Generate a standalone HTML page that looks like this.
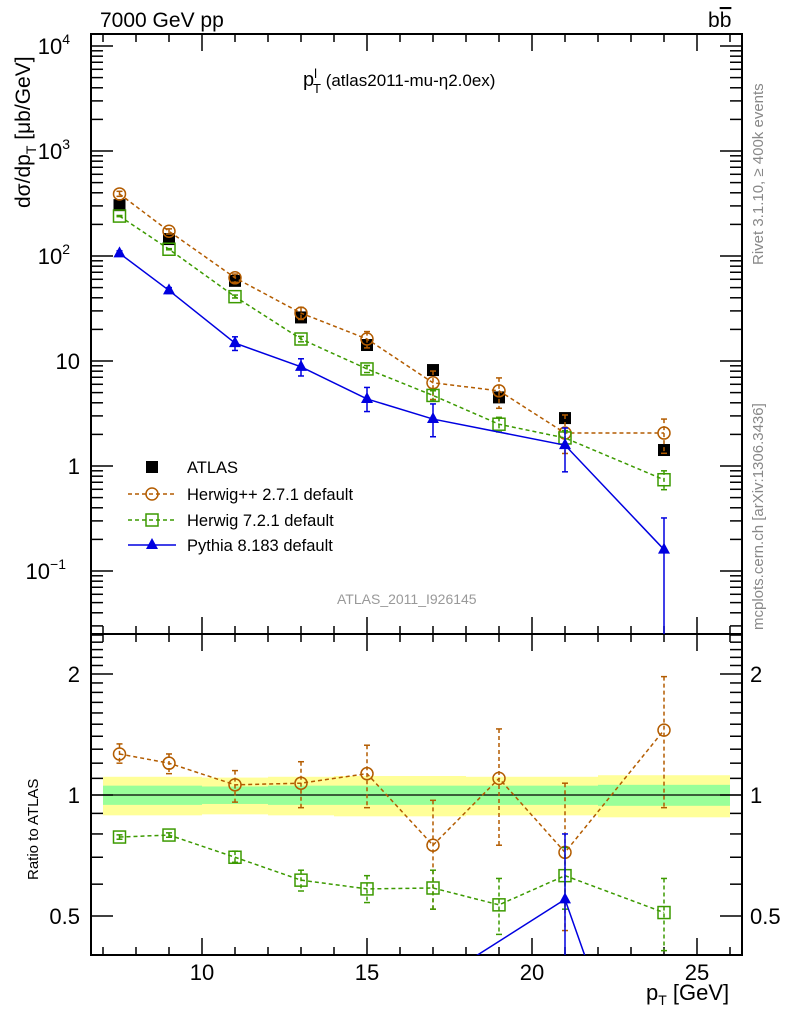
<!DOCTYPE html>
<html><head><meta charset="utf-8"><style>
html,body{margin:0;padding:0;background:#fff;overflow:hidden;}
svg{display:block;font-family:"Liberation Sans",sans-serif;}
</style></head><body>
<svg id="chart" width="786" height="1024" viewBox="0 0 786 1024" xmlns="http://www.w3.org/2000/svg">
<g id="bands"></g>
<g id="axes"></g>
<g id="series"></g>
<text x="100" y="27" font-size="21">7000 GeV pp</text>
<text x="708" y="27" font-size="21">b<tspan text-decoration="overline">b</tspan></text>
<text x="303" y="86" font-size="20">p<tspan font-size="13" dy="-8">l</tspan><tspan font-size="13" dx="-4" dy="15">T</tspan><tspan dy="-7" font-size="17"> (atlas2011-mu-η2.0ex)</tspan></text>
<text transform="translate(30,208) rotate(-90)" font-size="21">dσ/dp<tspan font-size="14" dy="6">T</tspan><tspan dy="-6"> [μb/GeV]</tspan></text>
<text transform="translate(38,880) rotate(-90)" font-size="15">Ratio to ATLAS</text>
<text x="646" y="1000" font-size="22">p<tspan font-size="14" dy="5">T</tspan><tspan dy="-5"> [GeV]</tspan></text>
<text transform="translate(763,265) rotate(-90)" font-size="15" fill="#888">Rivet 3.1.10, ≥ 400k events</text>
<text transform="translate(763,630) rotate(-90)" font-size="15" fill="#888">mcplots.cern.ch [arXiv:1306.3436]</text>
<text x="337" y="604" font-size="14" fill="#999">ATLAS_2011_I926145</text>
<g id="legend">
 <rect x="146" y="461" width="12" height="12" fill="#000"/>
 <text x="187" y="473" font-size="16.5">ATLAS</text>
 <line x1="128" y1="494" x2="176" y2="494" stroke="#b35c00" stroke-width="1.5" stroke-dasharray="4,3"/>
 <circle cx="152" cy="494" r="6" fill="none" stroke="#b35c00" stroke-width="1.5"/>
 <text x="187" y="500" font-size="16.5">Herwig++ 2.7.1 default</text>
 <line x1="128" y1="520" x2="176" y2="520" stroke="#3c9a00" stroke-width="1.5" stroke-dasharray="4,3"/>
 <rect x="146" y="514" width="12" height="12" fill="none" stroke="#3c9a00" stroke-width="1.5"/>
 <text x="187" y="526" font-size="16.5">Herwig 7.2.1 default</text>
 <line x1="128" y1="545" x2="176" y2="545" stroke="#0000e0" stroke-width="1.5"/>
 <path d="M152,538 L158,549 L146,549 Z" fill="#0000e0"/>
 <text x="187" y="551" font-size="16.5">Pythia 8.183 default</text>
</g>
</svg>
<script>
const xVals=[7.5,9,11,13,15,17,19,21,24];
const atlas=[305,145,58,26,14.2,8.2,4.5,2.86,1.42];
const herwigpp=[390,172,62,28.6,16.2,6.2,5.2,2.06,2.06];
const herwig7=[240,116,41,16.2,8.4,4.7,2.5,1.85,0.74];
const pythia=[106,47,14.8,8.8,4.35,2.8,null,1.58,0.16];
const pythiaLo=[100,44,12.6,7.2,3.3,1.9,null,0.88,0.001];
const pythiaHi=[112,50,17,10.5,5.6,3.9,null,2.3,0.32];
const hppRatio=[1.265,1.2,1.06,1.07,1.13,0.75,1.10,0.72,1.45];
const hppRatioLo=[1.2,1.13,0.96,0.93,0.93,0.52,0.75,0.46,0.93];
const hppRatioHi=[1.34,1.265,1.15,1.21,1.33,0.97,1.46,1.07,1.97];
const h7Ratio=[0.786,0.795,0.70,0.614,0.584,0.587,0.533,0.63,0.51];
const h7RatioLo=[0.776,0.785,0.68,0.577,0.54,0.52,0.45,0.52,0.41];
const h7RatioHi=[0.796,0.805,0.725,0.65,0.63,0.65,0.62,0.74,0.62];
const pyRatio=[0.35,0.32,0.26,0.34,0.31,0.34,null,0.55,0.11];
const pyRatioLo=[0.33,0.3,0.22,0.28,0.23,0.23,null,0.3,0.01];
const pyRatioHi=[0.37,0.34,0.3,0.38,0.39,0.39,null,0.80,0.22];
const bandEdges=[7,8,10,12,14,16,18,20,22,26];
const bandYellow=[0.11,0.11,0.105,0.11,0.115,0.115,0.11,0.11,0.12];
const bandGreen=[0.055,0.055,0.05,0.055,0.055,0.055,0.055,0.055,0.06];
const xTicks=[10,15,20,25];
const yTickExp=[-1,0,1,2,3,4];
const yTickLabels=["10","1","10","10","10","10"];
const yTickSup=["−1","","","2","3","4"];
const ratioTicks=[0.5,1,2];
const ratioTickLabels=["0.5","1","2"];

const NS="http://www.w3.org/2000/svg";
const L=91,R=742,T=34,MID=634,B=955;
const xs=v=>202+(v-10)*33;
const ys=v=>466-Math.log10(v)*105;
const yr=v=>795-Math.log2(v)*121;
function mk(par,tag,at){const e=document.createElementNS(NS,tag);for(const k in at)e.setAttribute(k,at[k]);par.appendChild(e);return e;}
const axes=document.getElementById('axes'),ser=document.getElementById('series'),bands=document.getElementById('bands');

for(let i=0;i<bandEdges.length-1;i++){
 const x1=xs(bandEdges[i]),x2=xs(bandEdges[i+1]);
 const ry=mk(bands,'rect',{x:x1,y:yr(1+bandYellow[i]),width:x2-x1,height:yr(1-bandYellow[i])-yr(1+bandYellow[i]),fill:'#ffff99'});
 
 
 const rg=mk(bands,'rect',{x:x1,y:yr(1+bandGreen[i]),width:x2-x1,height:yr(1-bandGreen[i])-yr(1+bandGreen[i]),fill:'#99ff99'});
 
 
}
const ref=mk(bands,'line',{x1:L,x2:R,y1:yr(1),y2:yr(1),stroke:'#000','stroke-width':1.3});



const f1=mk(axes,'rect',{x:L,y:T,width:R-L,height:MID-T,fill:'none',stroke:'#000','stroke-width':2});


const f2=mk(axes,'rect',{x:L,y:MID,width:R-L,height:B-MID,fill:'none',stroke:'#000','stroke-width':2});



for(let v=7;v<=26;v++){
 const maj=xTicks.includes(v),len=maj?17:8,x=xs(v);
 for(const [y0,d] of [[T,1],[MID,-1],[MID,1],[B,-1]]) mk(axes,'line',{x1:x,x2:x,y1:y0,y2:y0+d*len,stroke:'#000','stroke-width':1.5});
}
xTicks.forEach(v=>{const t=mk(axes,'text',{x:xs(v),y:980,'font-size':22,'text-anchor':'middle'});t.textContent=v;
 
 });
for(let e=-2;e<=4;e++){for(let m=1;m<=9;m++){const v=m*Math.pow(10,e),y=ys(v);if(y<T||y>MID)continue;
 const len=m===1?22:12;
 mk(axes,'line',{x1:L,x2:L+len,y1:y,y2:y,stroke:'#000','stroke-width':1.5});
 mk(axes,'line',{x1:R,x2:R-len,y1:y,y2:y,stroke:'#000','stroke-width':1.5});}}
yTickExp.forEach((e,i)=>{const y=ys(Math.pow(10,e));
 const t=mk(axes,'text',{x:80,y:y+8,'font-size':22,'text-anchor':'end'});
 
 
 if(yTickSup[i]){t.setAttribute('x',yTickSup[i].length>1?66:70);t.textContent=yTickLabels[i];const s=mk(t,'tspan',{'font-size':14,dy:-10});s.textContent=yTickSup[i];}
 else t.textContent=yTickLabels[i];});
const rmin=[0.4,0.5,0.6,0.7,0.8,0.9,1,1.1,1.2,1.3,1.4,1.5,1.6,1.7,1.8,1.9,2,2.1,2.2,2.3,2.4,2.5];
rmin.forEach(v=>{const y=yr(v);if(y<MID||y>B)return;const len=ratioTicks.includes(v)?22:12;
 mk(axes,'line',{x1:L,x2:L+len,y1:y,y2:y,stroke:'#000','stroke-width':1.5});
 mk(axes,'line',{x1:R,x2:R-len,y1:y,y2:y,stroke:'#000','stroke-width':1.5});});
ratioTicks.forEach((v,i)=>{
 const t=mk(axes,'text',{x:80,y:yr(v)+8,'font-size':22,'text-anchor':'end'});t.textContent=ratioTickLabels[i];
 
 
 const t2=mk(axes,'text',{x:750,y:yr(v)+8,'font-size':22});t2.textContent=ratioTickLabels[i];
 
 });

function clipRect(id,y0,y1){const c=mk(ser,'clipPath',{id:id});mk(c,'rect',{x:L,y:y0,width:R-L,height:y1-y0});}
clipRect('cm',T,MID);clipRect('cr',MID,B);

function drawSeries(name,vals,lo,hi,yf,clip,color,dash,marker,noLine){
 const g=mk(ser,'g',{'clip-path':'url(#'+clip+')'});
 
 
 if(!noLine){
 let d='';xVals.forEach((x,i)=>{if(vals[i]==null)return;d+=(d?'L':'M')+xs(x)+','+yf(vals[i]);});
 const a={d:d,fill:'none',stroke:color,'stroke-width':1.5};if(dash)a['stroke-dasharray']=dash;
 mk(g,'path',a);}
 xVals.forEach((x,i)=>{if(vals[i]==null)return;const X=xs(x),Y=yf(vals[i]);
  if(lo){const ea={x1:X,x2:X,y1:yf(hi[i]),y2:yf(Math.max(lo[i],1e-9)),stroke:color,'stroke-width':1.5};if(dash)ea['stroke-dasharray']='4,3';mk(g,'line',ea);
   mk(g,'line',{x1:X-3,x2:X+3,y1:yf(hi[i]),y2:yf(hi[i]),stroke:color,'stroke-width':1.5});
   mk(g,'line',{x1:X-3,x2:X+3,y1:yf(lo[i]),y2:yf(lo[i]),stroke:color,'stroke-width':1.5});}
  let m;
  if(marker==='circle')m=mk(g,'circle',{cx:X,cy:Y,r:6,fill:'none',stroke:color,'stroke-width':1.5});
  else if(marker==='square')m=mk(g,'rect',{x:X-6,y:Y-6,width:12,height:12,fill:'none',stroke:color,'stroke-width':1.5});
  else if(marker==='tri')m=mk(g,'path',{d:`M${X},${Y-7}L${X+6},${Y+4}L${X-6},${Y+4}Z`,fill:color});
  else m=mk(g,'rect',{x:X-6,y:Y-6,width:12,height:12,fill:color});
  
  
 });
}
const atlasLo=atlas.map(v=>v*0.93),atlasHi=atlas.map(v=>v*1.07);
const hppLo=herwigpp.map((v,i)=>v*hppRatioLo[i]/hppRatio[i]),hppHi=herwigpp.map((v,i)=>v*hppRatioHi[i]/hppRatio[i]);
const h7Lo=herwig7.map((v,i)=>v*h7RatioLo[i]/h7Ratio[i]),h7Hi=herwig7.map((v,i)=>v*h7RatioHi[i]/h7Ratio[i]);
drawSeries('atlas-data',atlas,atlasLo,atlasHi,ys,'cm','#000',null,'fill',true);
drawSeries('herwigpp-series',herwigpp,hppLo,hppHi,ys,'cm','#b35c00','4,3','circle');
drawSeries('herwig7-series',herwig7,h7Lo,h7Hi,ys,'cm','#3c9a00','4,3','square');
drawSeries('pythia-series',pythia,pythiaLo,pythiaHi,ys,'cm','#0000e0',null,'tri');
drawSeries('herwigpp-ratio',hppRatio,hppRatioLo,hppRatioHi,yr,'cr','#b35c00','4,3','circle');
drawSeries('herwig7-ratio',h7Ratio,h7RatioLo,h7RatioHi,yr,'cr','#3c9a00','4,3','square');
drawSeries('pythia-ratio',pyRatio,pyRatioLo,pyRatioHi,yr,'cr','#0000e0',null,'tri');
</script>
</body></html>
